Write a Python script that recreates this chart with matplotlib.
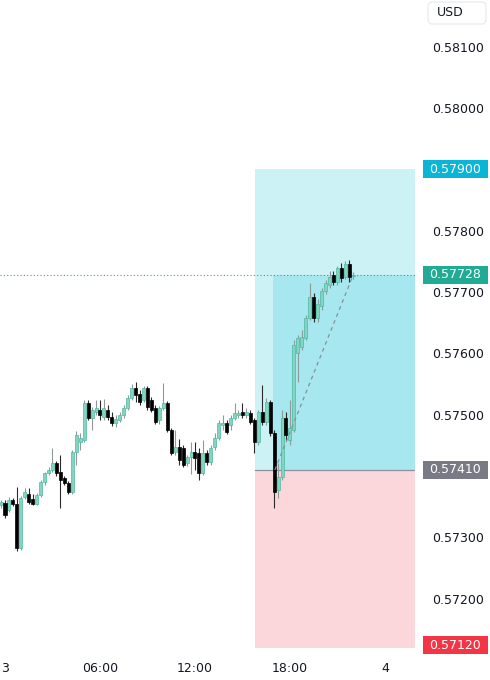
import numpy as np
import matplotlib.pyplot as plt
from matplotlib.patches import Rectangle, FancyBboxPatch
from matplotlib.transforms import blended_transform_factory

# 15 minute candles, first one at 23:45 on the 2nd
opens = [0.57352, 0.57356, 0.57345, 0.57361, 0.57355, 0.57283, 0.57366, 0.57370, 0.57362, 0.57355,
         0.57369, 0.57390, 0.57405, 0.57410, 0.57421, 0.57406, 0.57397, 0.57389, 0.57374, 0.57439,
         0.57455, 0.57459, 0.57519, 0.57495, 0.57504, 0.57508, 0.57496, 0.57508, 0.57496, 0.57486,
         0.57491, 0.57500, 0.57511, 0.57527, 0.57543, 0.57533, 0.57524, 0.57543, 0.57524, 0.57511,
         0.57491, 0.57511, 0.57519, 0.57475, 0.57439, 0.57447, 0.57446, 0.57421, 0.57431, 0.57439,
         0.57437, 0.57405, 0.57437, 0.57423, 0.57447, 0.57462, 0.57483, 0.57486, 0.57483, 0.57495,
         0.57500, 0.57504, 0.57500, 0.57503, 0.57491, 0.57455, 0.57504, 0.57488, 0.57520, 0.57470,
         0.57377, 0.57398, 0.57495, 0.57459, 0.57475, 0.57601, 0.57610, 0.57625, 0.57658, 0.57692,
         0.57658, 0.57678, 0.57701, 0.57712, 0.57727, 0.57717, 0.57740, 0.57725, 0.57746, 0.57726]
highs = [0.57360, 0.57360, 0.57366, 0.57364, 0.57382, 0.57368, 0.57380, 0.57380, 0.57370, 0.57373,
         0.57394, 0.57407, 0.57414, 0.57446, 0.57425, 0.57434, 0.57400, 0.57392, 0.57442, 0.57473,
         0.57470, 0.57524, 0.57524, 0.57512, 0.57524, 0.57524, 0.57525, 0.57516, 0.57504, 0.57500,
         0.57504, 0.57516, 0.57532, 0.57550, 0.57553, 0.57540, 0.57546, 0.57546, 0.57529, 0.57516,
         0.57514, 0.57552, 0.57522, 0.57478, 0.57475, 0.57461, 0.57451, 0.57434, 0.57455, 0.57455,
         0.57446, 0.57459, 0.57442, 0.57451, 0.57470, 0.57491, 0.57500, 0.57491, 0.57500, 0.57519,
         0.57508, 0.57519, 0.57511, 0.57508, 0.57495, 0.57508, 0.57548, 0.57527, 0.57524, 0.57475,
         0.57421, 0.57508, 0.57504, 0.57524, 0.57622, 0.57630, 0.57638, 0.57662, 0.57715, 0.57699,
         0.57688, 0.57707, 0.57720, 0.57735, 0.57735, 0.57743, 0.57748, 0.57751, 0.57753, 0.57733]
lows = [0.57348, 0.57331, 0.57341, 0.57351, 0.57278, 0.57280, 0.57362, 0.57355, 0.57352, 0.57352,
        0.57366, 0.57385, 0.57402, 0.57407, 0.57400, 0.57348, 0.57385, 0.57370, 0.57371, 0.57418,
        0.57442, 0.57456, 0.57491, 0.57475, 0.57500, 0.57491, 0.57491, 0.57491, 0.57482, 0.57480,
        0.57488, 0.57495, 0.57508, 0.57524, 0.57521, 0.57516, 0.57521, 0.57508, 0.57504, 0.57485,
        0.57485, 0.57508, 0.57472, 0.57434, 0.57434, 0.57418, 0.57415, 0.57416, 0.57403, 0.57410,
        0.57394, 0.57402, 0.57418, 0.57418, 0.57442, 0.57459, 0.57475, 0.57468, 0.57475, 0.57491,
        0.57495, 0.57495, 0.57495, 0.57485, 0.57437, 0.57450, 0.57483, 0.57483, 0.57465, 0.57348,
        0.57364, 0.57393, 0.57459, 0.57451, 0.57472, 0.57553, 0.57605, 0.57622, 0.57655, 0.57651,
        0.57651, 0.57671, 0.57696, 0.57707, 0.57712, 0.57712, 0.57717, 0.57722, 0.57717, 0.57722]
closes = [0.57357, 0.57336, 0.57361, 0.57355, 0.57283, 0.57364, 0.57374, 0.57357, 0.57355, 0.57369,
          0.57390, 0.57405, 0.57410, 0.57421, 0.57405, 0.57393, 0.57389, 0.57374, 0.57439, 0.57467,
          0.57462, 0.57519, 0.57495, 0.57508, 0.57511, 0.57500, 0.57511, 0.57496, 0.57486, 0.57493,
          0.57500, 0.57511, 0.57527, 0.57543, 0.57532, 0.57520, 0.57543, 0.57512, 0.57508, 0.57488,
          0.57511, 0.57519, 0.57475, 0.57437, 0.57447, 0.57426, 0.57418, 0.57431, 0.57439, 0.57429,
          0.57405, 0.57437, 0.57423, 0.57446, 0.57462, 0.57486, 0.57486, 0.57472, 0.57495, 0.57503,
          0.57503, 0.57500, 0.57504, 0.57488, 0.57455, 0.57504, 0.57488, 0.57520, 0.57470, 0.57374,
          0.57398, 0.57495, 0.57467, 0.57478, 0.57614, 0.57625, 0.57627, 0.57658, 0.57692, 0.57658,
          0.57681, 0.57701, 0.57714, 0.57725, 0.57717, 0.57740, 0.57723, 0.57746, 0.57725, 0.57728]

# 0.57900 and 0.57400 sit under the position labels
price_ticks = [0.581, 0.580, 0.578, 0.577, 0.576, 0.575, 0.573, 0.572]
time_ticks = [0, 6, 12, 18, 24]
time_names = ['3', '06:00', '12:00', '18:00', '4']

# long position tool
target = 0.579
entry = 0.5741
stop = 0.5712
last = 0.57728
box_start = 15.8
entry_time = 16.95

times = (np.arange(len(opens)) - 1) * 0.25
o = np.array(opens)
h = np.array(highs)
l = np.array(lows)
c = np.array(closes)
up = c >= o

fig = plt.figure(figsize=(4.9, 6.8), dpi=100)
ax = fig.add_axes([0, 25 / 680, 415 / 490, 655 / 680])
x_left, x_right = -0.316, 25.9
y_low, y_high = 0.57108, 0.581763
ax.set_xlim(x_left, x_right)
ax.set_ylim(y_low, y_high)

# position zones
ax.add_patch(Rectangle((box_start, entry), x_right - box_start, target - entry,
                       color='#ccf2f6', lw=0, zorder=0))
ax.add_patch(Rectangle((entry_time, entry), x_right - entry_time, last - entry,
                       color='#a6e7f0', lw=0, zorder=0.5))
ax.add_patch(Rectangle((box_start, stop), x_right - box_start, entry - stop,
                       color='#fbd7db', lw=0, zorder=0))
ax.plot([box_start, x_right], [entry, entry], color='#8e919a', lw=0.9, zorder=1)

# candles
ax.vlines(times[up], l[up], h[up], color='#8f9a98', lw=0.8, zorder=2)
ax.vlines(times[~up], l[~up], h[~up], color='#2a2a2a', lw=0.8, zorder=2)
body_low = np.minimum(o, c)
body_h = np.maximum(np.abs(c - o), 0.00002)
ax.bar(times[up], body_h[up], bottom=body_low[up], width=0.19,
       color='#84d4c2', edgecolor='#4fb9a2', lw=0.5, zorder=3)
ax.bar(times[~up], body_h[~up], bottom=body_low[~up], width=0.19,
       color='#000000', edgecolor='#000000', lw=0.5, zorder=3)

# entry to last price and current price line
ax.plot([entry_time + 0.1, times[-1]], [entry, last], color='#8a8e97',
        lw=0.9, ls=(0, (3, 3)), zorder=4)
ax.axhline(last, color='#22ab94', lw=0.8, ls=(0, (1, 2)), zorder=1)

for s in ax.spines.values():
    s.set_visible(False)
ax.set_xticks(time_ticks)
ax.set_xticklabels(time_names)
ax.set_yticks(price_ticks)
ax.set_yticklabels([f'{p:.5f}' for p in price_ticks])
ax.yaxis.tick_right()
ax.tick_params(axis='y', length=0, pad=12, labelsize=9, labelcolor='#131722')
ax.tick_params(axis='x', length=0, pad=5, labelsize=9, labelcolor='#131722')

# price labels on the scale
tr = blended_transform_factory(fig.transFigure, ax.transData)
box_h = 18 / 61300
for p, col in [(target, '#0ab5d6'), (last, '#22ab94'), (entry, '#787b86'), (stop, '#f23645')]:
    yc = max(p, y_low + 0.00016)
    fig.add_artist(Rectangle((423 / 490, yc - box_h / 2), 65 / 490, box_h, color=col,
                             lw=0, transform=tr, zorder=5))
    fig.text(429 / 490, yc, f'{p:.5f}', transform=tr, color='white', fontsize=9,
             va='center', ha='left', zorder=6)

fig.add_artist(FancyBboxPatch((428 / 490, 1 - 24 / 680), 58 / 490, 22 / 680,
                              boxstyle='round,pad=0,rounding_size=0.008',
                              fc='white', ec='#e6e8ee', lw=0.8, transform=fig.transFigure))
fig.text(437 / 490, 1 - 12 / 680, 'USD', fontsize=9, color='#131722', va='center')

fig.savefig('out.png', dpi=100)
